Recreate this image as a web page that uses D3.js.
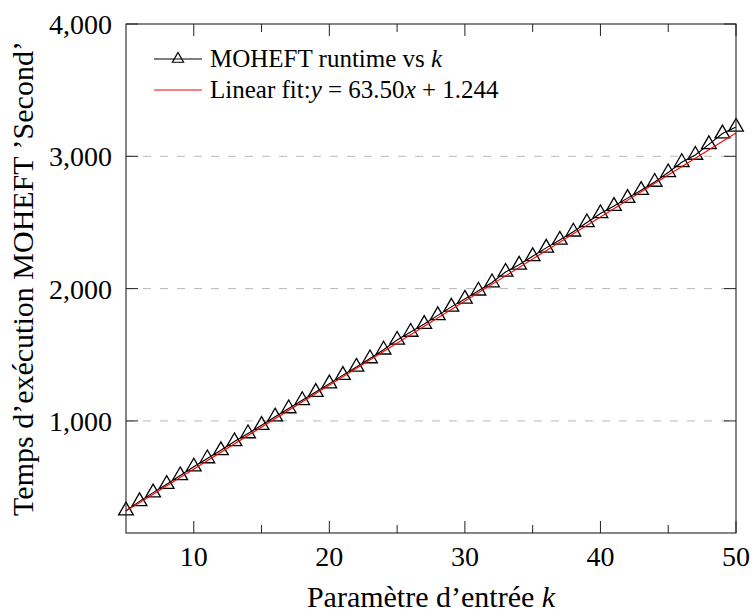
<!DOCTYPE html>
<html>
<head>
<meta charset="utf-8">
<script src="https://cdn.jsdelivr.net/npm/d3@7/dist/d3.min.js"></script>
<style>
  body { margin: 0; background: #fff; }
  text { font-family: "Liberation Serif", "Times New Roman", serif; fill: #000; }
</style>
</head>
<body>
<div id="chart"></div>
<script>
// Runtime measurements, k = 5..50
const kValues = [5, 6, 7, 8, 9, 10, 11, 12, 13, 14, 15, 16, 17, 18, 19, 20, 21, 22, 23, 24, 25,
  26, 27, 28, 29, 30, 31, 32, 33, 34, 35, 36, 37, 38, 39, 40, 41, 42, 43, 44, 45, 46, 47, 48, 49, 50];
const runtimes = [322, 392, 458, 522, 588, 654, 716, 778, 845, 905, 968, 1032, 1094, 1156, 1218, 1282,
  1346, 1408, 1472, 1538, 1612, 1672, 1732, 1798, 1862, 1922, 1984, 2046, 2126, 2180, 2244, 2308,
  2368, 2430, 2500, 2568, 2624, 2684, 2744, 2806, 2878, 2955, 3010, 3090, 3172, 3222];

// fit: y = 63.50x + 1.244
const fitSlope = 63.50;
const fitIntercept = 1.244;

const xTicks = [10, 20, 30, 40, 50];
const xMinorTicks = [15, 25, 35, 45];
const yTicks = [1000, 2000, 3000, 4000];

const width = 753, height = 613;
const margin = { left: 126, right: 17, top: 24, bottom: 80 };

const svg = d3.select('#chart').append('svg')
  .attr('width', width)
  .attr('height', height);

const x = d3.scaleLinear().domain([5, 50]).range([margin.left, width - margin.right]);
const y = d3.scaleLinear().domain([153, 4000]).range([height - margin.bottom, margin.top]);

const x0 = x.range()[0], x1 = x.range()[1];
const yBot = y.range()[0], yTop = y.range()[1];

// Grid
svg.append('g')
  .selectAll('line')
  .data(yTicks.filter(d => d < 4000))
  .join('line')
  .attr('x1', x0).attr('x2', x1)
  .attr('y1', d => y(d)).attr('y2', d => y(d))
  .attr('stroke', '#b8b8b8')
  .attr('stroke-width', 1)
  .attr('stroke-dasharray', '8,9');

// Ticks (inward, mirrored on opposite side)
const tickG = svg.append('g').attr('stroke', '#222').attr('stroke-width', 1);
xTicks.concat(xMinorTicks).forEach(t => {
  const len = xTicks.includes(t) ? 12 : 8;
  tickG.append('line').attr('x1', x(t)).attr('x2', x(t)).attr('y1', yBot).attr('y2', yBot - len);
  tickG.append('line').attr('x1', x(t)).attr('x2', x(t)).attr('y1', yTop).attr('y2', yTop + len);
});
yTicks.forEach(t => {
  tickG.append('line').attr('x1', x0).attr('x2', x0 + 12).attr('y1', y(t)).attr('y2', y(t));
  tickG.append('line').attr('x1', x1).attr('x2', x1 - 12).attr('y1', y(t)).attr('y2', y(t));
});

// Tick labels
svg.append('g')
  .selectAll('text')
  .data(xTicks)
  .join('text')
  .attr('x', d => x(d))
  .attr('y', 566)
  .attr('text-anchor', 'middle')
  .style('font-size', '28px')
  .text(d => d);

svg.append('g')
  .selectAll('text')
  .data(yTicks)
  .join('text')
  .attr('x', 112)
  .attr('y', d => y(d) + 10)
  .attr('text-anchor', 'end')
  .style('font-size', '28px')
  .text(d => d3.format(',')(d));

// Data line
const line = d3.line().x((d, i) => x(kValues[i])).y(d => y(d));
svg.append('path')
  .datum(runtimes)
  .attr('d', line)
  .attr('fill', 'none')
  .attr('stroke', '#000')
  .attr('stroke-width', 1.1);

const triR = 8.5;
const triPath = `M0,${-triR}L${triR * Math.cos(Math.PI / 6)},${triR / 2}L${-triR * Math.cos(Math.PI / 6)},${triR / 2}Z`;
svg.append('g')
  .selectAll('path')
  .data(runtimes)
  .join('path')
  .attr('transform', (d, i) => `translate(${x(kValues[i])},${y(d)})`)
  .attr('d', triPath)
  .attr('fill', 'none')
  .attr('stroke', '#000')
  .attr('stroke-width', 1.3);

// Linear fit
const fitX = [5, 50];
svg.append('path')
  .datum(fitX)
  .attr('d', d3.line().x(d => x(d)).y(d => y(fitSlope * d + fitIntercept)))
  .attr('stroke', '#ff0000')
  .attr('stroke-width', 1.1)
  .attr('fill', 'none');

// Axis frame
svg.append('rect')
  .attr('x', x0).attr('y', yTop)
  .attr('width', x1 - x0).attr('height', yBot - yTop)
  .attr('fill', 'none')
  .attr('stroke', '#222')
  .attr('stroke-width', 1.1);

// Legend
const lg = svg.append('g');
lg.append('line').attr('x1', 154).attr('x2', 202).attr('y1', 59).attr('y2', 59)
  .attr('stroke', '#000').attr('stroke-width', 1.1);
lg.append('path').attr('transform', 'translate(178,59)')
  .attr('d', `M0,-6.5L5.6,3.25L-5.6,3.25Z`)
  .attr('fill', 'none').attr('stroke', '#000').attr('stroke-width', 1.2);
const t1 = lg.append('text').attr('x', 210).attr('y', 67).style('font-size', '25px');
t1.append('tspan').text('MOHEFT runtime vs ');
t1.append('tspan').style('font-style', 'italic').text('k');

lg.append('line').attr('x1', 154).attr('x2', 202).attr('y1', 90).attr('y2', 90)
  .attr('stroke', '#ff0000').attr('stroke-width', 1.1);
const t2 = lg.append('text').attr('x', 210).attr('y', 98).style('font-size', '25px');
t2.append('tspan').text('Linear fit:');
t2.append('tspan').style('font-style', 'italic').text('y');
t2.append('tspan').text(' = 63.50');
t2.append('tspan').style('font-style', 'italic').text('x');
t2.append('tspan').text(' + 1.244');

// Axis labels
svg.append('text')
  .attr('x', (x0 + x1) / 2)
  .attr('y', 607)
  .attr('text-anchor', 'middle')
  .style('font-size', '30px')
  .html('Paramètre d’entrée <tspan font-style="italic">k</tspan>');

svg.append('text')
  .attr('transform', `translate(33,${(yTop + yBot) / 2}) rotate(-90)`)
  .attr('text-anchor', 'middle')
  .style('font-size', '30px')
  .text('Temps d’exécution MOHEFT ’Second’');
</script>
</body>
</html>
